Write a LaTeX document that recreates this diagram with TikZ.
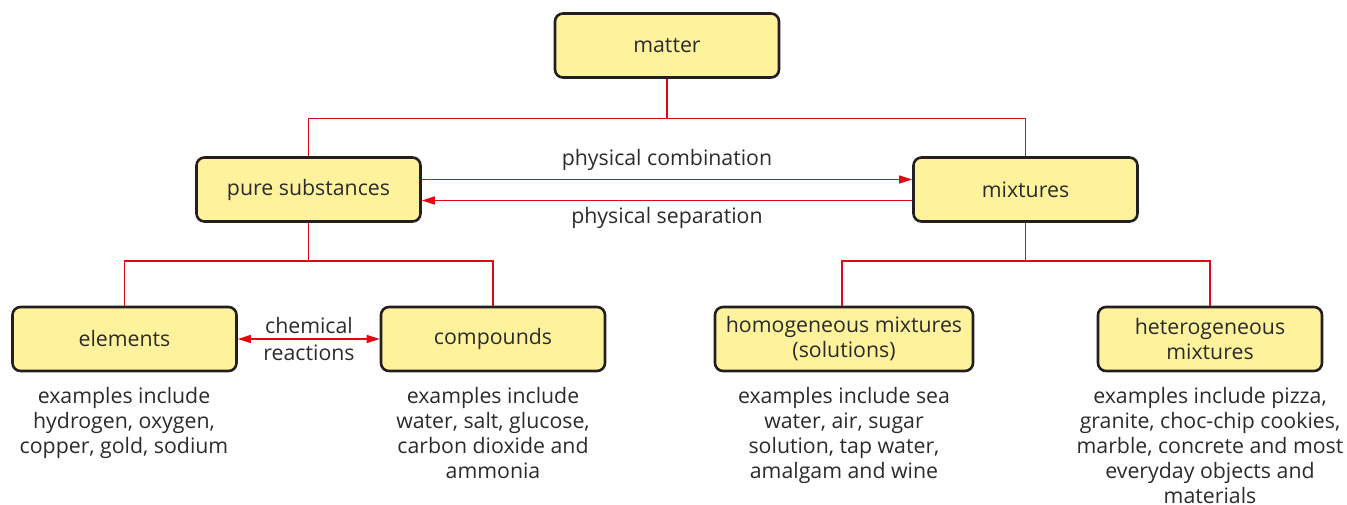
\documentclass[tikz,border=0pt]{standalone}
\usepackage{fontspec}
\setmainfont{Open Sans}
\usetikzlibrary{arrows.meta}
\definecolor{boxfill}{HTML}{FEF29C}
\definecolor{boxline}{HTML}{231F20}
\definecolor{conred}{HTML}{E30613}
\definecolor{txt}{HTML}{2B2B2B}
\begin{document}
\begin{tikzpicture}[x=1pt,y=-1pt,
  box/.style={draw=boxline, line width=2.6pt, fill=boxfill, rounded corners=8pt,
    minimum width=224pt, minimum height=64pt, align=center, text=txt,
    font=\fontsize{21.3}{25}\selectfont, inner sep=0pt},
  conn/.style={draw=conred, line width=1.4pt},
  arr/.style={conn, -{Triangle[length=13pt,width=8pt]}},
  lbl/.style={text=txt, font=\fontsize{21.3}{25}\selectfont, align=center, inner sep=0pt},
  ex/.style={lbl, anchor=north}]
\useasboundingbox (0,0) rectangle (1347,504);
\node[box] (matter) at (667,45.5) {\raisebox{-1.5pt}{matter}};
\node[box] (pure) at (308.5,189.5) {\raisebox{-1.5pt}{pure substances}};
\node[box] (mix) at (1025.5,189.5) {\raisebox{-1.5pt}{mixtures}};
\node[box] (el) at (124.5,339) {\raisebox{-1.5pt}{elements}};
\node[box] (comp) at (493,339) {\raisebox{-1.5pt}{compounds}};
\node[box, minimum width=258pt] (homo) at (844,339) {homogeneous mixtures\\(solutions)};
\node[box] (hetero) at (1210,339) {heterogeneous\\mixtures};
\coordinate (t1) at (667,118.5);
\coordinate (t2) at (308.5,261);
\coordinate (t3) at (1025.5,261);
\draw[conn] (matter.south) -- (t1);
\draw[conn] (t1) -| (pure.north);
\draw[conn] (t1) -| (mix.north);
\draw[conn] (pure.south) -- (t2);
\draw[conn] (t2) -| (el.north);
\draw[conn] (t2) -| (comp.north);
\draw[conn] (mix.south) -- (t3);
\draw[conn] (t3) -| (homo.north -| 842,0);
\draw[conn] (t3) -| (hetero.north);
\draw[arr] (pure.east |- 0,179.5) -- (mix.west |- 0,179.5);
\draw[arr] (mix.west |- 0,200.5) -- (pure.east |- 0,200.5);
\draw[arr, {Triangle[length=13pt,width=8pt]}-{Triangle[length=13pt,width=8pt]}] (el.east) -- (comp.west);
\node[lbl] (pc) at (667,159.5) {physical combination};
\node[lbl] (ps) at (667,217.5) {physical separation};
\node[lbl, font=\fontsize{21.3}{27}\selectfont] (cr) at (309,339) {chemical\\reactions};
\node[ex] (exel) at (124,387.5) {examples include\\hydrogen, oxygen,\\copper, gold, sodium};
\node[ex] (excomp) at (493,387.5) {examples include\\water, salt, glucose,\\carbon dioxide and\\ammonia};
\node[ex] (exhomo) at (844,387.5) {examples include sea\\water, air, sugar\\solution, tap water,\\amalgam and wine};
\node[ex] (exhet) at (1210,387.5) {examples include pizza,\\granite, choc-chip cookies,\\marble, concrete and most\\everyday objects and\\materials};
\end{tikzpicture}
\end{document}
